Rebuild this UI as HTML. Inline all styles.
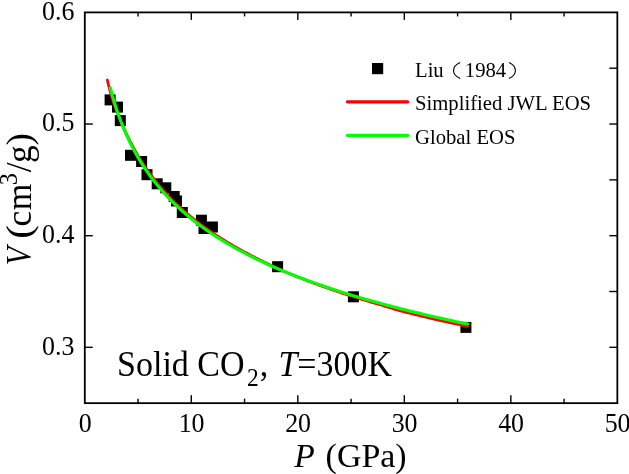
<!DOCTYPE html>
<html><head><meta charset="utf-8"><title>chart</title>
<style>
html,body{margin:0;padding:0;background:#fff;}
body{width:629px;height:474px;overflow:hidden;}
svg{display:block;will-change:transform;}
text{font-family:"Liberation Serif",serif;fill:#000;}
</style></head><body>
<svg width="629" height="474" viewBox="0 0 629 474">
<rect width="629" height="474" fill="#fff"/>
<g fill="#000">
<rect x="104.6" y="94.4" width="11.0" height="11.0"/>
<rect x="112.0" y="101.6" width="11.0" height="11.0"/>
<rect x="114.8" y="115.1" width="11.0" height="11.0"/>
<rect x="125.0" y="149.8" width="11.0" height="11.0"/>
<rect x="136.1" y="156.0" width="11.0" height="11.0"/>
<rect x="141.5" y="169.2" width="11.0" height="11.0"/>
<rect x="151.7" y="178.3" width="11.0" height="11.0"/>
<rect x="160.3" y="182.3" width="11.0" height="11.0"/>
<rect x="168.7" y="191.0" width="11.0" height="11.0"/>
<rect x="171.0" y="195.5" width="11.0" height="11.0"/>
<rect x="176.8" y="207.0" width="11.0" height="11.0"/>
<rect x="195.9" y="214.7" width="11.0" height="11.0"/>
<rect x="198.5" y="223.0" width="11.0" height="11.0"/>
<rect x="206.9" y="221.5" width="11.0" height="11.0"/>
<rect x="272.1" y="261.2" width="11.0" height="11.0"/>
<rect x="347.9" y="291.3" width="11.0" height="11.0"/>
<rect x="460.4" y="321.9" width="11.0" height="11.0"/>
</g>
<path d="M107.28,79.95 L109.09,87.34 L110.91,94.16 L112.84,100.44 L114.89,106.25 L116.97,111.67 L119.02,116.75 L120.98,121.56 L122.92,126.11 L124.84,130.42 L126.76,134.52 L128.66,138.43 L130.55,142.16 L132.43,145.73 L134.29,149.15 L136.16,152.43 L138.02,155.58 L139.88,158.62 L141.73,161.54 L143.57,164.37 L145.41,167.11 L147.23,169.76 L149.04,172.33 L150.84,174.84 L152.64,177.27 L154.43,179.63 L156.23,181.92 L158.03,184.15 L159.83,186.32 L161.62,188.44 L163.42,190.50 L165.22,192.51 L167.02,194.47 L168.81,196.39 L170.61,198.26 L172.41,200.09 L174.21,201.87 L176.00,203.62 L177.80,205.34 L179.60,207.01 L181.40,208.65 L183.20,210.26 L185.00,211.84 L186.80,213.39 L188.59,214.90 L190.39,216.39 L192.19,217.86 L193.99,219.29 L195.79,220.70 L197.59,222.09 L199.39,223.45 L201.19,224.79 L202.99,226.11 L204.79,227.40 L206.59,228.68 L208.39,229.93 L210.19,231.17 L211.99,232.39 L213.79,233.59 L215.59,234.77 L217.39,235.93 L219.19,237.09 L220.98,238.22 L222.78,239.35 L224.57,240.45 L226.37,241.55 L228.16,242.63 L229.95,243.70 L231.75,244.76 L233.54,245.80 L235.33,246.84 L237.12,247.86 L238.91,248.87 L240.70,249.87 L242.49,250.85 L244.29,251.83 L246.08,252.79 L247.87,253.75 L249.66,254.69 L251.45,255.62 L253.24,256.55 L255.04,257.46 L256.83,258.36 L258.62,259.26 L260.41,260.15 L262.20,261.04 L263.98,261.92 L265.77,262.80 L267.55,263.66 L269.34,264.52 L271.12,265.38 L272.91,266.22 L274.70,267.06 L276.48,267.89 L278.27,268.71 L280.06,269.52 L281.85,270.32 L283.64,271.12 L285.43,271.90 L287.22,272.67 L289.02,273.44 L290.81,274.19 L292.61,274.94 L294.40,275.68 L296.20,276.42 L297.99,277.15 L299.79,277.87 L301.59,278.58 L303.39,279.29 L305.19,279.99 L306.98,280.68 L308.78,281.37 L310.58,282.06 L312.38,282.73 L314.18,283.40 L315.98,284.07 L317.78,284.73 L319.58,285.39 L321.38,286.04 L323.18,286.68 L324.98,287.32 L326.78,287.96 L328.58,288.59 L330.38,289.21 L332.19,289.83 L333.99,290.45 L335.79,291.06 L337.59,291.66 L339.39,292.26 L341.20,292.85 L343.00,293.44 L344.80,294.03 L346.61,294.61 L348.41,295.19 L350.21,295.76 L352.02,296.33 L353.82,296.89 L355.62,297.45 L357.43,298.01 L359.23,298.57 L361.03,299.12 L362.84,299.67 L364.64,300.21 L366.44,300.76 L368.24,301.30 L370.05,301.84 L371.85,302.37 L373.65,302.91 L375.45,303.44 L377.25,303.97 L379.05,304.50 L380.85,305.03 L382.65,305.57 L384.44,306.12 L386.23,306.66 L388.03,307.22 L389.82,307.77 L391.61,308.31 L393.40,308.86 L395.19,309.39 L396.99,309.92 L398.78,310.44 L400.58,310.94 L402.39,311.42 L404.19,311.89 L406.00,312.36 L407.81,312.81 L409.62,313.27 L411.43,313.72 L413.24,314.17 L415.04,314.62 L416.85,315.06 L418.66,315.50 L420.47,315.94 L422.28,316.38 L424.09,316.81 L425.90,317.24 L427.71,317.67 L429.51,318.09 L431.32,318.51 L433.13,318.93 L434.94,319.35 L436.75,319.76 L438.56,320.17 L440.37,320.58 L442.18,320.99 L443.99,321.40 L445.80,321.80 L447.61,322.20 L449.42,322.59 L451.23,322.99 L453.04,323.38 L454.85,323.77 L456.66,324.16 L458.47,324.55 L460.28,324.93 L462.09,325.31 L463.90,325.69 L465.71,326.07 L467.52,326.44" fill="none" stroke="#ff0000" stroke-width="2.7" stroke-linecap="round" stroke-linejoin="round"/>
<path d="M110.20,87.65 L112.45,95.97 L114.70,103.57 L116.95,110.54 L119.20,117.00 L121.45,122.99 L123.69,128.59 L125.94,133.85 L128.19,138.79 L130.44,143.47 L132.69,147.89 L134.94,152.09 L137.19,156.09 L139.44,159.91 L141.69,163.56 L143.94,167.06 L146.18,170.41 L148.43,173.63 L150.68,176.74 L152.93,179.73 L155.18,182.61 L157.43,185.39 L159.68,188.09 L161.93,190.70 L164.18,193.22 L166.43,195.67 L168.68,198.05 L170.92,200.36 L173.17,202.61 L175.42,204.80 L177.67,206.93 L179.92,209.00 L182.17,211.02 L184.42,212.99 L186.67,214.92 L188.92,216.80 L191.17,218.63 L193.42,220.43 L195.66,222.19 L197.91,223.90 L200.16,225.59 L202.41,227.23 L204.66,228.85 L206.91,230.43 L209.16,231.98 L211.41,233.50 L213.66,234.99 L215.91,236.46 L218.15,237.90 L220.40,239.31 L222.65,240.70 L224.90,242.06 L227.15,243.40 L229.40,244.72 L231.65,246.02 L233.90,247.29 L236.15,248.55 L238.40,249.78 L240.65,251.00 L242.89,252.19 L245.14,253.37 L247.39,254.54 L249.64,255.68 L251.89,256.81 L254.14,257.92 L256.39,259.02 L258.64,260.10 L260.89,261.17 L263.14,262.22 L265.38,263.26 L267.63,264.28 L269.88,265.29 L272.13,266.29 L274.38,267.27 L276.63,268.25 L278.88,269.21 L281.13,270.16 L283.38,271.10 L285.63,272.02 L287.88,272.94 L290.12,273.84 L292.37,274.74 L294.62,275.62 L296.87,276.49 L299.12,277.36 L301.37,278.21 L303.62,279.06 L305.87,279.89 L308.12,280.72 L310.37,281.54 L312.62,282.35 L314.86,283.15 L317.11,283.94 L319.36,284.73 L321.61,285.50 L323.86,286.27 L326.11,287.03 L328.36,287.79 L330.61,288.53 L332.86,289.27 L335.11,290.01 L337.35,290.73 L339.60,291.45 L341.85,292.16 L344.10,292.87 L346.35,293.57 L348.60,294.26 L350.85,294.94 L353.10,295.62 L355.35,296.30 L357.60,296.97 L359.85,297.63 L362.09,298.28 L364.34,298.93 L366.59,299.58 L368.84,300.22 L371.09,300.85 L373.34,301.48 L375.59,302.11 L377.84,302.73 L380.09,303.34 L382.34,303.95 L384.58,304.55 L386.83,305.15 L389.08,305.75 L391.33,306.34 L393.58,306.92 L395.83,307.50 L398.08,308.08 L400.33,308.65 L402.58,309.22 L404.83,309.78 L407.08,310.34 L409.32,310.90 L411.57,311.45 L413.82,311.99 L416.07,312.54 L418.32,313.08 L420.57,313.61 L422.82,314.14 L425.07,314.67 L427.32,315.20 L429.57,315.72 L431.82,316.23 L434.06,316.75 L436.31,317.26 L438.56,317.76 L440.81,318.27 L443.06,318.77 L445.31,319.26 L447.56,319.76 L449.81,320.25 L452.06,320.73 L454.31,321.22 L456.55,321.70 L458.80,322.17 L461.05,322.65 L463.30,323.12 L465.55,323.59 L467.80,324.05" fill="none" stroke="#00ff00" stroke-width="3.1" stroke-linecap="round" stroke-linejoin="round"/>
<rect x="84.8" y="12.4" width="532.5500000000001" height="390.75" fill="none" stroke="#000" stroke-width="1.8"/>
<g stroke="#000" stroke-width="1.4">
<line x1="138.06" y1="403.15" x2="138.06" y2="398.65"/>
<line x1="138.06" y1="12.4" x2="138.06" y2="16.4"/>
<line x1="191.31" y1="403.15" x2="191.31" y2="395.15"/>
<line x1="191.31" y1="12.4" x2="191.31" y2="19.9"/>
<line x1="244.56" y1="403.15" x2="244.56" y2="398.65"/>
<line x1="244.56" y1="12.4" x2="244.56" y2="16.4"/>
<line x1="297.82" y1="403.15" x2="297.82" y2="395.15"/>
<line x1="297.82" y1="12.4" x2="297.82" y2="19.9"/>
<line x1="351.08" y1="403.15" x2="351.08" y2="398.65"/>
<line x1="351.08" y1="12.4" x2="351.08" y2="16.4"/>
<line x1="404.33" y1="403.15" x2="404.33" y2="395.15"/>
<line x1="404.33" y1="12.4" x2="404.33" y2="19.9"/>
<line x1="457.59" y1="403.15" x2="457.59" y2="398.65"/>
<line x1="457.59" y1="12.4" x2="457.59" y2="16.4"/>
<line x1="510.84" y1="403.15" x2="510.84" y2="395.15"/>
<line x1="510.84" y1="12.4" x2="510.84" y2="19.9"/>
<line x1="564.10" y1="403.15" x2="564.10" y2="398.65"/>
<line x1="564.10" y1="12.4" x2="564.10" y2="16.4"/>
<line x1="84.8" y1="347.33" x2="92.8" y2="347.33"/>
<line x1="617.35" y1="347.33" x2="609.35" y2="347.33"/>
<line x1="617.35" y1="291.51" x2="609.35" y2="291.51"/>
<line x1="84.8" y1="235.69" x2="92.8" y2="235.69"/>
<line x1="617.35" y1="235.69" x2="609.35" y2="235.69"/>
<line x1="617.35" y1="179.86" x2="609.35" y2="179.86"/>
<line x1="84.8" y1="124.04" x2="92.8" y2="124.04"/>
<line x1="617.35" y1="124.04" x2="609.35" y2="124.04"/>
<line x1="617.35" y1="68.22" x2="609.35" y2="68.22"/>
</g>
<text transform="translate(85.1 431.6) scale(0.96 1)" font-size="27" text-anchor="middle">0</text>
<text transform="translate(191.6 431.6) scale(0.96 1)" font-size="27" text-anchor="middle">10</text>
<text transform="translate(298.1 431.6) scale(0.96 1)" font-size="27" text-anchor="middle">20</text>
<text transform="translate(404.6 431.6) scale(0.96 1)" font-size="27" text-anchor="middle">30</text>
<text transform="translate(511.1 431.6) scale(0.96 1)" font-size="27" text-anchor="middle">40</text>
<text transform="translate(617.6 431.6) scale(0.96 1)" font-size="27" text-anchor="middle">50</text>
<text transform="translate(74.4 354.7) scale(0.96 1)" font-size="27" text-anchor="end">0.3</text>
<text transform="translate(74.4 243.1) scale(0.96 1)" font-size="27" text-anchor="end">0.4</text>
<text transform="translate(74.4 131.4) scale(0.96 1)" font-size="27" text-anchor="end">0.5</text>
<text transform="translate(74.4 19.8) scale(0.96 1)" font-size="27" text-anchor="end">0.6</text>
<text transform="translate(294.3 466.7) scale(1.0 1)" font-size="33.6" text-anchor="start" font-style="italic">P</text>
<text transform="translate(325.6 466.7) scale(1.01 1)" font-size="33.6" text-anchor="start">(GPa)</text>
<text transform="translate(31.3 256.0) rotate(-90) scale(0.85 1)" font-size="35.4" text-anchor="middle" font-style="italic">V</text>
<text transform="translate(31.3 232.0) rotate(-90) scale(1.15 1)" font-size="35.4" text-anchor="middle">(</text>
<text transform="translate(31.3 218.6) rotate(-90) scale(1.0 1)" font-size="35.4" text-anchor="middle">c</text>
<text transform="translate(31.3 197.0) rotate(-90) scale(0.96 1)" font-size="35.4" text-anchor="middle">m</text>
<text transform="translate(16.9 179.2) rotate(-90) scale(0.93 1)" font-size="26" text-anchor="middle">3</text>
<text transform="translate(31.3 167.3) rotate(-90) scale(1.0 1)" font-size="35.4" text-anchor="middle">/</text>
<text transform="translate(31.3 154.2) rotate(-90) scale(1.0 1)" font-size="35.4" text-anchor="middle">g</text>
<text transform="translate(31.3 139.4) rotate(-90) scale(1.05 1)" font-size="35.4" text-anchor="middle">)</text>
<text transform="translate(117.1 375.5) scale(0.96 1)" font-size="35.4" text-anchor="start">Solid CO</text>
<text transform="translate(247.0 385.5) scale(0.96 1)" font-size="24.5" text-anchor="start">2</text>
<text transform="translate(259.8 375.5) scale(0.96 1)" font-size="35.4" text-anchor="start">,</text>
<text transform="translate(278.5 375.5) scale(0.96 1)" font-size="35.4" text-anchor="start" font-style="italic">T</text>
<text transform="translate(297.3 375.5) scale(0.96 1)" font-size="35.4" text-anchor="start">=300K</text>
<rect x="372.0" y="62.99999999999999" width="11.2" height="11.2" fill="#000"/>
<line x1="347.4" y1="101.8" x2="407.6" y2="101.8" stroke="#ff0000" stroke-width="3.2" stroke-linecap="round"/>
<line x1="347.4" y1="135.4" x2="407.6" y2="135.4" stroke="#00ff00" stroke-width="3.2" stroke-linecap="round"/>
<text transform="translate(415.0 76.8) scale(0.94 1)" font-size="22" text-anchor="start">Liu</text>
<path d="M460.2,62.4 C451.3,66.5 451.3,74.5 460.2,78.6" fill="none" stroke="#000" stroke-width="1.1"/>
<text transform="translate(464.8 76.8) scale(0.94 1)" font-size="22" text-anchor="start">1984</text>
<path d="M509,62.4 C517.6,66.5 517.6,74.5 509,78.6" fill="none" stroke="#000" stroke-width="1.1"/>
<text transform="translate(415.0 110.4) scale(0.94 1)" font-size="22" text-anchor="start">Simplified JWL EOS</text>
<text transform="translate(415.0 144.1) scale(0.94 1)" font-size="22" text-anchor="start">Global EOS</text>
</svg></body></html>
